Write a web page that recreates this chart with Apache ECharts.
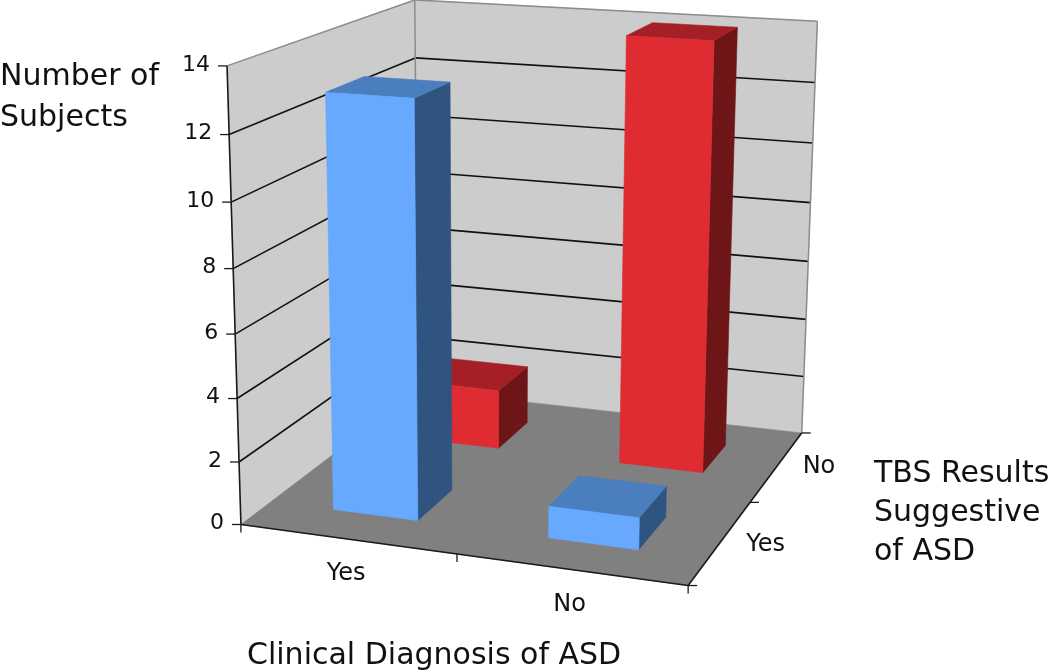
<!DOCTYPE html>
<html><head><meta charset="utf-8">
<style>html,body{margin:0;padding:0;background:#fff}#c{width:1050px;height:671px}</style>
<script src="https://cdn.jsdelivr.net/npm/echarts@6/dist/echarts.min.js"></script>
</head><body><div id="c"></div>
<script>
// ---- data ----
const clinicalCategories = ['Yes', 'No'];
const tbsCategories = ['Yes', 'No'];
const yTicks = [0, 2, 4, 6, 8, 10, 12, 14];
const tbsYesValues = [13, 1];   // front row (blue)
const tbsNoValues = [2, 14];    // back row (red)
const Y_MAX = 14;
const BAR_MARGIN = 0.3;

const FONT = '"DejaVu Sans", Verdana, sans-serif';
const COLORS = {
  wall: '#cccccc', wallEdge: '#8c8c8c', floor: '#808080', grid: '#111111', axis: '#1a1a1a', text: '#111111',
  blue: { front: '#66a9ff', top: '#4a7ebf', side: '#2f5480' },
  red: { front: '#df2b32', top: '#a51f26', side: '#6e1518' }
};

// ---- perspective camera fitted to the box corners: [x, y, z] (x,z in cells, y in value units) -> pixel ----
const cameraAnchors = [
  [[0, 0, 0], [243, 524]], [[0, 14, 0], [226, 65]],
  [[0, 0, 2], [416, 391]], [[0, 14, 2], [416, 0]],
  [[2, 0, 2], [803, 431]], [[2, 14, 2], [817, 22]],
  [[2, 0, 0], [687, 587]]
];
function fitCamera(anchors) {
  const n = 11, A = Array.from({ length: n }, () => new Array(n + 1).fill(0));
  const add = (r, b) => { for (let i = 0; i < n; i++) { for (let j = 0; j < n; j++) A[i][j] += r[i] * r[j]; A[i][n] += r[i] * b; } };
  anchors.forEach(([w, p]) => {
    const X = w[0] / 2, Y = w[1] / Y_MAX, Z = w[2] / 2, u = p[0] / 1000, v = p[1] / 1000;
    add([X, Y, Z, 1, 0, 0, 0, 0, -u * X, -u * Y, -u * Z], u);
    add([0, 0, 0, 0, X, Y, Z, 1, -v * X, -v * Y, -v * Z], v);
  });
  for (let c = 0; c < n; c++) {
    let best = c; for (let r = c + 1; r < n; r++) if (Math.abs(A[r][c]) > Math.abs(A[best][c])) best = r;
    [A[c], A[best]] = [A[best], A[c]];
    for (let r = 0; r < n; r++) if (r !== c) {
      const f = A[r][c] / A[c][c]; for (let k = c; k <= n; k++) A[r][k] -= f * A[c][k];
    }
  }
  return A.map((row, i) => row[n] / row[i]);
}
const cam = fitCamera(cameraAnchors);
function project(X, Y, Z) {
  const w = cam[8] * X + cam[9] * Y + cam[10] * Z + 1;
  return [1000 * (cam[0] * X + cam[1] * Y + cam[2] * Z + cam[3]) / w,
          1000 * (cam[4] * X + cam[5] * Y + cam[6] * Z + cam[7]) / w];
}
// axis scales -> normalized -> camera
function mapper(params, api) {
  const cs = params.coordSys;
  return (x, y, z) => {
    const p = api.coord([x, y]);
    return project((p[0] - cs.x) / cs.width, 1 - (p[1] - cs.y) / cs.height, z / tbsCategories.length);
  };
}
const poly = (points, fill) => ({ type: 'polygon', shape: { points }, style: { fill, stroke: fill, lineWidth: 0.6 }, silent: true });
const seg = (a, b, stroke, lineWidth) => ({ type: 'line', shape: { x1: a[0], y1: a[1], x2: b[0], y2: b[1] }, style: { stroke, lineWidth }, silent: true });
const label = (text, p, align, size) => ({
  type: 'text', silent: true,
  style: { text, x: p[0], y: p[1], align, verticalAlign: 'middle', font: size + 'px ' + FONT, fill: COLORS.text }
});

function renderBox(params, api) {
  const P = mapper(params, api);
  const x = api.value(0), v = api.value(1), z = api.value(2);
  const color = z === 0 ? COLORS.blue : COLORS.red;
  const x0 = x + BAR_MARGIN, x1 = x + 1 - BAR_MARGIN, z0 = z + BAR_MARGIN, z1 = z + 1 - BAR_MARGIN;
  return {
    type: 'group', children: [
      poly([P(x1, 0, z0), P(x1, 0, z1), P(x1, v, z1), P(x1, v, z0)], color.side),
      poly([P(x0, v, z0), P(x1, v, z0), P(x1, v, z1), P(x0, v, z1)], color.top),
      poly([P(x0, 0, z0), P(x1, 0, z0), P(x1, v, z0), P(x0, v, z0)], color.front)
    ]
  };
}

function renderBackdrop(params, api) {
  const P = mapper(params, api);
  const nx = clinicalCategories.length, nz = tbsCategories.length;
  const out = [
    poly([P(0, 0, 0), P(0, 0, nz), P(0, Y_MAX, nz), P(0, Y_MAX, 0)], COLORS.wall),
    poly([P(0, 0, nz), P(nx, 0, nz), P(nx, Y_MAX, nz), P(0, Y_MAX, nz)], COLORS.wall),
    poly([P(0, 0, 0), P(nx, 0, 0), P(nx, 0, nz), P(0, 0, nz)], COLORS.floor)
  ];
  yTicks.forEach(t => {
    if (t > 0 && t < Y_MAX) {
      out.push(seg(P(0, t, 0), P(0, t, nz), COLORS.grid, 1.6), seg(P(0, t, nz), P(nx, t, nz), COLORS.grid, 1.6));
    }
  });
  out.push(
    seg(P(0, Y_MAX, 0), P(0, Y_MAX, nz), COLORS.wallEdge, 1.5),
    seg(P(0, Y_MAX, nz), P(nx, Y_MAX, nz), COLORS.wallEdge, 1.5),
    seg(P(nx, Y_MAX, nz), P(nx, 0, nz), COLORS.wallEdge, 1.5),
    seg(P(0, Y_MAX, nz), P(0, 0, nz), COLORS.wallEdge, 1.5),
    seg(P(0, 0, 0), P(0, Y_MAX, 0), COLORS.axis, 1.6),
    seg(P(0, 0, 0), P(nx, 0, 0), COLORS.axis, 1.6),
    seg(P(nx, 0, 0), P(nx, 0, nz), COLORS.axis, 1.6)
  );
  yTicks.forEach(t => {
    const p = P(0, t, 0);
    out.push(seg([p[0] - 9, p[1]], p, COLORS.axis, 1.3));
    out.push(label(String(t), [p[0] - 17, p[1] - 1], 'right', 22));
  });
  for (let i = 0; i <= nx; i++) { const p = P(i, 0, 0); out.push(seg(p, [p[0], p[1] + 8], COLORS.axis, 1.3)); }
  for (let k = 0; k <= nz; k++) { const p = P(nx, 0, k); out.push(seg(p, [p[0] + 9, p[1]], COLORS.axis, 1.3)); }
  clinicalCategories.forEach((c, i) => { const p = P(i + 0.5, 0, 0); out.push(label(c, [p[0] - 1, p[1] + 35], 'center', 24)); });
  tbsCategories.forEach((c, k) => { const p = P(nx, 0, k + 0.5); out.push(label(c, [p[0] + 45 - 3 * k, p[1] + 3 - 2 * k], 'center', 24)); });
  return { type: 'group', children: out };
}

const titleText = (text, left, top) => ({ text, left, top, padding: 0, textStyle: { fontFamily: FONT, fontSize: 30, fontWeight: 'normal', color: COLORS.text } });

const boxSeries = (name, values, zIndex) => ({
  name, type: 'custom', renderItem: renderBox, silent: true, clip: false,
  encode: { x: 0, y: 1 },
  data: values.map((v, i) => [i, v, zIndex])
});

const chart = echarts.init(document.getElementById('c'), null, { renderer: 'canvas' });
chart.setOption({
  animation: false,
  backgroundColor: '#ffffff',
  tooltip: { show: false },
  title: [
    titleText('Number of', 0, 62), titleText('Subjects', 0, 103),
    titleText('Clinical Diagnosis of ASD', 247, 641),
    titleText('TBS Results', 874, 459), titleText('Suggestive', 874, 498), titleText('of ASD', 874, 537)
  ],
  grid: { left: 0, top: 0, width: 1000, height: 600 },
  xAxis: { type: 'value', min: 0, max: clinicalCategories.length, show: false },
  yAxis: { type: 'value', min: 0, max: Y_MAX, show: false },
  series: [
    { name: 'backdrop', type: 'custom', renderItem: renderBackdrop, silent: true, clip: false, data: [[0, 0]] },
    boxSeries('TBS No', tbsNoValues, 1),
    boxSeries('TBS Yes', tbsYesValues, 0)
  ]
});
</script></body></html>
